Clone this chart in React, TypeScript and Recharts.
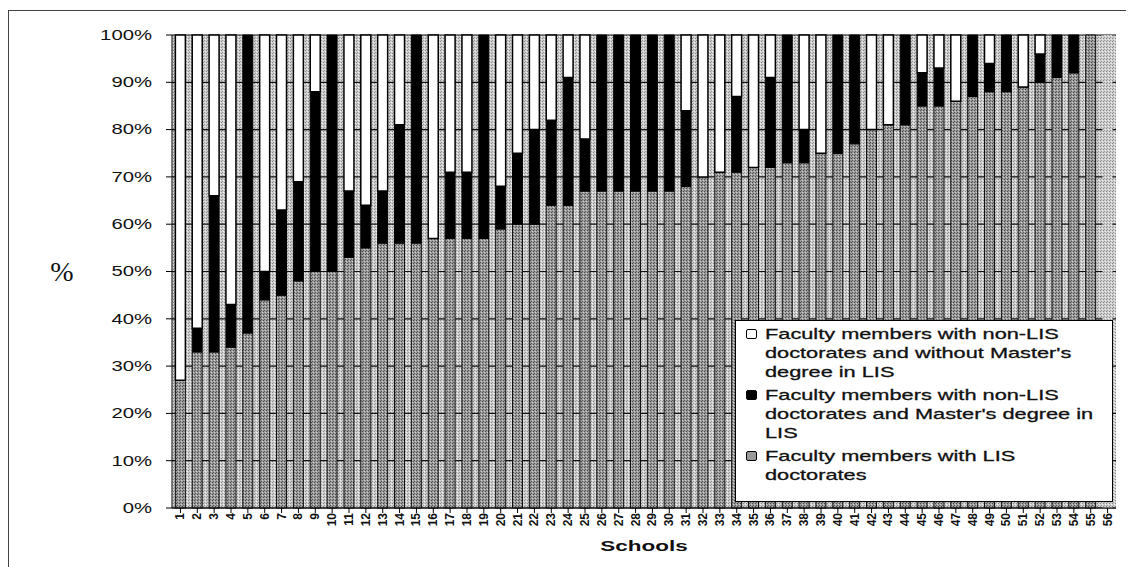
import React from "react"
import { BarChart, Bar, XAxis, YAxis, CartesianGrid, Cell } from "recharts"

const schools = [
  "1", "2", "3", "4", "5", "6", "7", "8", "9", "10", "11", "12", "13", "14",
  "15", "16", "17", "18", "19", "20", "21", "22", "23", "24", "25", "26", "27", "28",
  "29", "30", "31", "32", "33", "34", "35", "36", "37", "38", "39", "40", "41", "42",
  "43", "44", "45", "46", "47", "48", "49", "50", "51", "52", "53", "54", "55", "56",
]

// % of faculty with LIS doctorates
const lisDoctorates = [
  27, 33, 33, 34, 37, 44, 45, 48, 50, 50, 53, 55, 56, 56,
  56, 57, 57, 57, 57, 59, 60, 60, 64, 64, 67, 67, 67, 67,
  67, 67, 68, 70, 71, 71, 72, 72, 73, 73, 75, 75, 77, 80,
  81, 81, 85, 85, 86, 87, 88, 88, 89, 90, 91, 92, 100, 100,
]

// % with non-LIS doctorates and a Master's in LIS
const nonLisWithMaster = [
  0, 5, 33, 9, 63, 6, 18, 21, 38, 50, 14, 9, 11, 25,
  44, 0, 14, 14, 43, 9, 15, 20, 18, 27, 11, 33, 33, 33,
  33, 33, 16, 0, 0, 16, 0, 19, 27, 7, 0, 25, 23, 0,
  0, 19, 7, 8, 0, 13, 6, 12, 0, 6, 9, 8, 0, 0,
]

// % with non-LIS doctorates and no Master's in LIS
const nonLisWithoutMaster = [
  73, 62, 34, 57, 0, 50, 37, 31, 12, 0, 33, 36, 33, 19,
  0, 43, 29, 29, 0, 32, 25, 20, 18, 9, 22, 0, 0, 0,
  0, 0, 16, 30, 29, 13, 28, 9, 0, 20, 25, 0, 0, 20,
  19, 0, 8, 7, 14, 0, 6, 0, 11, 4, 0, 0, 0, 0,
]

const yTicks = [0, 10, 20, 30, 40, 50, 60, 70, 80, 90, 100]

const legendItems = [
  { key: "without", lines: ["Faculty members with non-LIS", "doctorates and without Master's", "degree in LIS"], swatch: "#ffffff" },
  { key: "master", lines: ["Faculty members with non-LIS", "doctorates and Master's degree in", "LIS"], swatch: "#000000" },
  { key: "lis", lines: ["Faculty members with LIS", "doctorates"], swatch: "#9a9a9a" },
]

const data = schools.map((s, i) => ({
  school: s,
  lis: lisDoctorates[i],
  master: nonLisWithMaster[i],
  without: nonLisWithoutMaster[i],
}))

const FONT = "'Liberation Sans', Arial, sans-serif"

const YTick = ({ x, y, payload }: any) => (
  <text
    transform={`translate(${x},${y}) scale(1.45,1)`}
    textAnchor="end"
    dominantBaseline="central"
    fontFamily={FONT}
    fontSize={14}
    fill="#111"
  >
    {`${payload.value}%`}
  </text>
)

const XTick = ({ x, y, payload }: any) => (
  <text
    transform={`translate(${x},${y}) rotate(-90)`}
    textAnchor="end"
    dominantBaseline="central"
    fontFamily={FONT}
    fontSize={12}
    fontWeight="bold"
    fill="#111"
  >
    {payload.value}
  </text>
)

const LegendBox = () => (
  <div
    style={{
      position: "absolute",
      left: 727,
      top: 312,
      width: 378,
      height: 182,
      boxSizing: "border-box",
      border: "1.5px solid #000",
      background: "#fff",
      paddingTop: 3,
      fontFamily: FONT,
      fontSize: 15,
      color: "#111",
      WebkitTextStroke: "0.3px #111",
    }}
  >
    {legendItems.map((item) => (
      <div key={item.key} style={{ position: "relative", marginBottom: 4 }}>
        <div
          style={{
            position: "absolute",
            left: 10,
            top: 5,
            width: 9,
            height: 8,
            background: item.swatch,
            border: "1.5px solid #000",
            borderRadius: 2,
          }}
        />
        <div style={{ marginLeft: 29, transform: "scaleX(1.45)", transformOrigin: "left", whiteSpace: "nowrap" }}>
          {item.lines.map((l) => (
            <div key={l} style={{ lineHeight: "19px" }}>{l}</div>
          ))}
        </div>
      </div>
    ))}
  </div>
)

export default function App() {
  return (
    <div style={{ position: "relative", width: 1126, height: 559 }}>
      <div
        style={{
          position: "absolute",
          left: 0,
          top: 2,
          width: 1126,
          height: 557,
          borderLeft: "1.5px solid #444",
          borderTop: "1.5px solid #444",
        }}
      />
      <BarChart
        width={1126}
        height={559}
        data={data}
        margin={{ top: 27, right: 18, left: 0, bottom: 0 }}
        barCategoryGap="20%"
      >
        <defs>
          <pattern id="bgDots" width="3" height="3" patternUnits="userSpaceOnUse">
            <rect width="3" height="3" fill="#cdcdcd" />
            <rect x="0" y="0" width="1" height="1" fill="#8a8a8a" />
            <rect x="2" y="1" width="1" height="1" fill="#f0f0f0" />
            <rect x="1" y="2" width="1" height="1" fill="#9a9a9a" />
          </pattern>
          <pattern id="lisDots" width="3" height="3" patternUnits="userSpaceOnUse">
            <rect width="3" height="3" fill="#9a9a9a" />
            <rect x="0" y="0" width="1" height="1" fill="#4a4a4a" />
            <rect x="2" y="1" width="1" height="1" fill="#d0d0d0" />
            <rect x="1" y="2" width="1" height="1" fill="#5a5a5a" />
          </pattern>
        </defs>
        <CartesianGrid vertical={false} stroke="#111" strokeWidth={1.2} fill="url(#bgDots)" fillOpacity={1} />
        <XAxis
          dataKey="school"
          interval={0}
          height={59}
          tickSize={5}
          tickMargin={0}
          stroke="#000"
          tick={<XTick />}
          label={{
            content: ({ viewBox }: any) => (
              <text
                transform={`translate(${viewBox.x + viewBox.width / 2},${viewBox.y + 38}) scale(1.5,1)`}
                textAnchor="middle"
                dominantBaseline="central"
                fontFamily={FONT}
                fontSize={15}
                fontWeight="bold"
                fill="#111"
              >
                Schools
              </text>
            ),
          }}
        />
        <YAxis
          width={164}
          domain={[0, 100]}
          ticks={yTicks}
          interval={0}
          tickSize={6}
          tickMargin={14}
          stroke="#000"
          tick={<YTick />}
          label={{
            content: ({ viewBox }: any) => (
              <text
                x={viewBox.x + 54}
                y={viewBox.y + viewBox.height / 2}
                textAnchor="middle"
                dominantBaseline="central"
                fontFamily="'Liberation Serif', 'Times New Roman', serif"
                fontSize={28}
                fill="#111"
              >
                %
              </text>
            ),
          }}
        />
        <Bar dataKey="lis" stackId="a" fill="url(#lisDots)" stroke="#111" strokeWidth={1} isAnimationActive={false}>
          {data.map((d, i) => (
            <Cell key={d.school} fill={i === 55 ? "url(#bgDots)" : "url(#lisDots)"} stroke={i === 55 ? "none" : "#111"} />
          ))}
        </Bar>
        <Bar dataKey="master" stackId="a" fill="#000" stroke="#000" strokeWidth={1} isAnimationActive={false} />
        <Bar dataKey="without" stackId="a" fill="#fff" stroke="#000" strokeWidth={1.5} isAnimationActive={false} />
      </BarChart>
      <LegendBox />
    </div>
  )
}
